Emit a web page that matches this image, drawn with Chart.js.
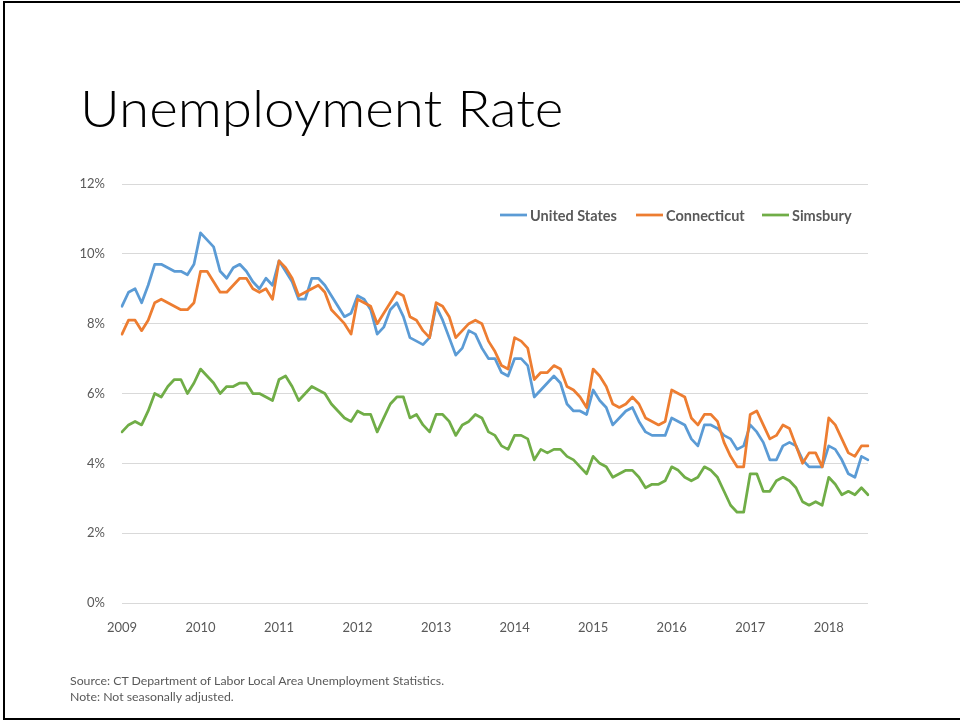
<!DOCTYPE html>
<html>
<head>
<meta charset="utf-8">
<title>Unemployment Rate</title>
<script src="https://cdn.jsdelivr.net/npm/chart.js@4.4.1/dist/chart.umd.min.js"></script>
<style>
  html, body { margin: 0; padding: 0; background: #fff; }
  #slide { position: relative; width: 960px; height: 721px; overflow: hidden; }
  #frame { position: absolute; left: 3px; top: 1px; width: 1000px; height: 719px;
           box-sizing: border-box; border: 2px solid #000; }
  #title { position: absolute; left: 80px; top: 81px; font: 300 52px Lato, 'Open Sans', sans-serif;
           line-height: 52px; color: #000; white-space: nowrap; transform-origin: left top; }
  #chart { position: absolute; left: 0; top: 0; }
  #note { position: absolute; left: 70px; top: 673px; font: 12.3px Lato, 'Open Sans', sans-serif;
          line-height: 16px; color: #595959; }
</style>
</head>
<body>
<div id="slide">
  <div id="frame"></div>
  <div id="title">Unemployment Rate</div>
  <canvas id="chart" width="960" height="721"></canvas>
  <div id="note">Source: CT Department of Labor Local Area Unemployment Statistics.<br>Note: Not seasonally adjusted.</div>
</div>
<script>
// monthly, Jan 2009 - Jul 2018 (not seasonally adjusted)
const years = [2009, 2010, 2011, 2012, 2013, 2014, 2015, 2016, 2017, 2018];
const lastMonth = 7;

const unitedStates = [
  8.5, 8.9, 9.0, 8.6, 9.1, 9.7, 9.7, 9.6, 9.5, 9.5, 9.4, 9.7,
  10.6, 10.4, 10.2, 9.5, 9.3, 9.6, 9.7, 9.5, 9.2, 9.0, 9.3, 9.1,
  9.8, 9.5, 9.2, 8.7, 8.7, 9.3, 9.3, 9.1, 8.8, 8.5, 8.2, 8.3,
  8.8, 8.7, 8.4, 7.7, 7.9, 8.4, 8.6, 8.2, 7.6, 7.5, 7.4, 7.6,
  8.5, 8.1, 7.6, 7.1, 7.3, 7.8, 7.7, 7.3, 7.0, 7.0, 6.6, 6.5,
  7.0, 7.0, 6.8, 5.9, 6.1, 6.3, 6.5, 6.3, 5.7, 5.5, 5.5, 5.4,
  6.1, 5.8, 5.6, 5.1, 5.3, 5.5, 5.6, 5.2, 4.9, 4.8, 4.8, 4.8,
  5.3, 5.2, 5.1, 4.7, 4.5, 5.1, 5.1, 5.0, 4.8, 4.7, 4.4, 4.5,
  5.1, 4.9, 4.6, 4.1, 4.1, 4.5, 4.6, 4.5, 4.1, 3.9, 3.9, 3.9,
  4.5, 4.4, 4.1, 3.7, 3.6, 4.2, 4.1
];
const connecticut = [
  7.7, 8.1, 8.1, 7.8, 8.1, 8.6, 8.7, 8.6, 8.5, 8.4, 8.4, 8.6,
  9.5, 9.5, 9.2, 8.9, 8.9, 9.1, 9.3, 9.3, 9.0, 8.9, 9.0, 8.7,
  9.8, 9.6, 9.3, 8.8, 8.9, 9.0, 9.1, 8.9, 8.4, 8.2, 8.0, 7.7,
  8.7, 8.6, 8.5, 8.0, 8.3, 8.6, 8.9, 8.8, 8.2, 8.1, 7.8, 7.6,
  8.6, 8.5, 8.2, 7.6, 7.8, 8.0, 8.1, 8.0, 7.5, 7.2, 6.8, 6.7,
  7.6, 7.5, 7.3, 6.4, 6.6, 6.6, 6.8, 6.7, 6.2, 6.1, 5.9, 5.6,
  6.7, 6.5, 6.2, 5.7, 5.6, 5.7, 5.9, 5.7, 5.3, 5.2, 5.1, 5.2,
  6.1, 6.0, 5.9, 5.3, 5.1, 5.4, 5.4, 5.2, 4.6, 4.2, 3.9, 3.9,
  5.4, 5.5, 5.1, 4.7, 4.8, 5.1, 5.0, 4.5, 4.0, 4.3, 4.3, 3.9,
  5.3, 5.1, 4.7, 4.3, 4.2, 4.5, 4.5
];
const simsbury = [
  4.9, 5.1, 5.2, 5.1, 5.5, 6.0, 5.9, 6.2, 6.4, 6.4, 6.0, 6.3,
  6.7, 6.5, 6.3, 6.0, 6.2, 6.2, 6.3, 6.3, 6.0, 6.0, 5.9, 5.8,
  6.4, 6.5, 6.2, 5.8, 6.0, 6.2, 6.1, 6.0, 5.7, 5.5, 5.3, 5.2,
  5.5, 5.4, 5.4, 4.9, 5.3, 5.7, 5.9, 5.9, 5.3, 5.4, 5.1, 4.9,
  5.4, 5.4, 5.2, 4.8, 5.1, 5.2, 5.4, 5.3, 4.9, 4.8, 4.5, 4.4,
  4.8, 4.8, 4.7, 4.1, 4.4, 4.3, 4.4, 4.4, 4.2, 4.1, 3.9, 3.7,
  4.2, 4.0, 3.9, 3.6, 3.7, 3.8, 3.8, 3.6, 3.3, 3.4, 3.4, 3.5,
  3.9, 3.8, 3.6, 3.5, 3.6, 3.9, 3.8, 3.6, 3.2, 2.8, 2.6, 2.6,
  3.7, 3.7, 3.2, 3.2, 3.5, 3.6, 3.5, 3.3, 2.9, 2.8, 2.9, 2.8,
  3.6, 3.4, 3.1, 3.2, 3.1, 3.3, 3.1
];
const yTicks = [0, 2, 4, 6, 8, 10, 12];

// month labels like "2013-01"
const months = [];
years.forEach(y => {
  const n = y === years[years.length - 1] ? lastMonth : 12;
  for (let m = 1; m <= n; m++) months.push(y + '-' + String(m).padStart(2, '0'));
});

// squeeze the title to the slide's title width
const title = document.getElementById('title');
title.style.transform = 'scaleX(' + (483 / title.offsetWidth) + ')';

const FONT = 'Lato, "Open Sans", sans-serif';

// legend drawn inside the plot, top right
const legendInside = {
  id: 'legendInside',
  afterDraw(chart) {
    const ctx = chart.ctx;
    const starts = [500, 636, 762];
    const y = 215;
    ctx.save();
    ctx.font = 'bold 14.5px ' + FONT;
    ctx.textBaseline = 'middle';
    chart.data.datasets.forEach((ds, i) => {
      const x = starts[i];
      ctx.strokeStyle = ds.borderColor;
      ctx.lineWidth = 2.75;
      ctx.beginPath();
      ctx.moveTo(x, y);
      ctx.lineTo(x + 27, y);
      ctx.stroke();
      ctx.fillStyle = '#595959';
      ctx.fillText(ds.label, x + 30, y + 1);
    });
    ctx.restore();
  }
};

const ctx = document.getElementById('chart').getContext('2d');
new Chart(ctx, {
  type: 'line',
  data: {
    labels: months,
    datasets: [
      { label: 'United States', data: unitedStates, borderColor: '#5B9BD5', order: 3 },
      { label: 'Connecticut', data: connecticut, borderColor: '#ED7D31', order: 2 },
      { label: 'Simsbury', data: simsbury, borderColor: '#70AD47', order: 1 }
    ]
  },
  options: {
    responsive: false,
    animation: false,
    devicePixelRatio: 1,
    layout: { padding: { left: 0, right: 92, top: 184, bottom: 78 } },
    plugins: { legend: { display: false }, tooltip: { enabled: false } },
    elements: {
      point: { radius: 0 },
      line: { tension: 0, borderWidth: 2.75, borderCapStyle: 'round', borderJoinStyle: 'round', fill: false }
    },
    scales: {
      x: {
        offset: false,
        grid: { display: false },
        border: { display: false },
        ticks: {
          autoSkip: false,
          maxRotation: 0,
          padding: 9,
          color: '#595959',
          font: { size: 13, family: FONT },
          callback: (v, i) => months[i].endsWith('-01') ? months[i].slice(0, 4) : ''
        },
        afterFit(s) { s.height = 40; }
      },
      y: {
        min: 0,
        max: 12,
        afterBuildTicks(s) { s.ticks = yTicks.map(v => ({ value: v })); },
        ticks: {
          padding: 17,
          color: '#595959',
          font: { size: 13, family: FONT },
          callback: v => v + '%'
        },
        grid: { color: '#d9d9d9', lineWidth: 1, drawTicks: false },
        border: { display: false },
        afterFit(s) { s.width = 122; }
      }
    }
  },
  plugins: [legendInside]
});
</script>
</body>
</html>
